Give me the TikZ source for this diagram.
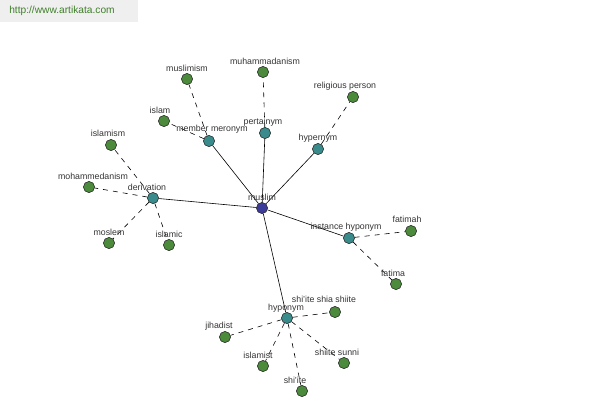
\documentclass[tikz,border=0pt]{standalone}
\usepackage{fontspec}
\setmainfont{Liberation Sans}
\usetikzlibrary{positioning}
\definecolor{cnavy}{HTML}{3B3B9A}
\definecolor{cteal}{HTML}{3A8C8C}
\definecolor{cgreen}{HTML}{4B8B3B}
\definecolor{clabel}{HTML}{333333}
\definecolor{curl}{HTML}{3F7F2A}
\definecolor{cbar}{HTML}{EFEFEF}

\begin{document}
\begin{tikzpicture}[
  x=1pt,y=-1pt,font=\fontsize{8.8}{10}\selectfont,
  dot/.style={circle,draw=black!80,line width=0.5pt,inner sep=0pt,minimum size=11pt},
  root/.style={dot,fill=cnavy},
  rel/.style={dot,fill=cteal},
  word/.style={dot,fill=cgreen},
  lbl/.style={text=clabel,inner sep=0pt},
  solidlink/.style={line width=0.6pt,black},
  dashlink/.style={line width=0.6pt,black,dash pattern=on 5pt off 5pt}]
  \useasboundingbox (0,0) rectangle (600,400);
  \fill[cbar] (0,0) rectangle (138,22);
  \node[text=curl,inner sep=0pt,font=\fontsize{10.2}{12}\selectfont] (url) at (62,11) {http://www.artikata.com};
  % root
  \node[root] (muslim) at (262,208) {};
  % relations
  \node[rel] (mem) at (209,141) {};
  \node[rel] (per) at (265,133) {};
  \node[rel] (hyper) at (318,149) {};
  \node[rel] (der) at (153,198) {};
  \node[rel] (inst) at (349,238) {};
  \node[rel] (hypo) at (287,318) {};
  % words
  \node[word] (muslimism) at (187,79) {};
  \node[word] (muhammadanism) at (263,72) {};
  \node[word] (relperson) at (353,97) {};
  \node[word] (islam) at (164,121) {};
  \node[word] (islamism) at (111,145) {};
  \node[word] (mohammedanism) at (89,187) {};
  \node[word] (moslem) at (109,243) {};
  \node[word] (islamic) at (169,245) {};
  \node[word] (fatimah) at (411,231) {};
  \node[word] (fatima) at (396,284) {};
  \node[word] (shiashiite) at (335,312) {};
  \node[word] (jihadist) at (225,337) {};
  \node[word] (islamist) at (263,366) {};
  \node[word] (shiite) at (302,391) {};
  \node[word] (sunni) at (344,363) {};
  % edges
  \foreach \a in {mem,per,hyper,der,inst,hypo}
     \draw[solidlink] (muslim) -- (\a);
  \foreach \a/\b in {mem/muslimism,mem/islam,per/muhammadanism,hyper/relperson,
                     der/islamism,der/mohammedanism,der/moslem,der/islamic,
                     inst/fatimah,inst/fatima,hypo/shiashiite,hypo/jihadist,
                     hypo/islamist,hypo/shiite,hypo/sunni}
     \draw[dashlink] (\a) -- (\b);
  % redraw dots above the lines
  \foreach \n/\s in {muslim/root,mem/rel,per/rel,hyper/rel,der/rel,inst/rel,hypo/rel,
                     muslimism/word,muhammadanism/word,relperson/word,islam/word,
                     islamism/word,mohammedanism/word,moslem/word,islamic/word,
                     fatimah/word,fatima/word,shiashiite/word,jihadist/word,
                     islamist/word,shiite/word,sunni/word}
     \node[\s] at (\n) {};
  % labels
  \node[lbl] (lmuslim) at (262,197) {muslim};
  \node[lbl] (lmem) at (212,129) {member meronym};
  \node[lbl] (lper) at (263,122) {pertainym};
  \node[lbl] (lhyper) at (318,138) {hypernym};
  \node[lbl] (lder) at (147,187) {derivation};
  \node[lbl] (linst) at (346,227) {instance hyponym};
  \node[lbl] (lhypo) at (286,308) {hyponym};
  \node[lbl] (lmuslimism) at (187,68) {muslimism};
  \node[lbl] (lmuhammadanism) at (265,61) {muhammadanism};
  \node[lbl] (lrelperson) at (345,86) {religious person};
  \node[lbl] (lislam) at (160,110) {islam};
  \node[lbl] (lislamism) at (108,133) {islamism};
  \node[lbl] (lmohammedanism) at (93,176) {mohammedanism};
  \node[lbl] (lmoslem) at (109,232) {moslem};
  \node[lbl] (lislamic) at (169,234) {islamic};
  \node[lbl] (lfatimah) at (407,219) {fatimah};
  \node[lbl] (lfatima) at (393,273) {fatima};
  \node[lbl] (lshiashiite) at (324,299) {shi'ite shia shiite};
  \node[lbl] (ljihadist) at (219,326) {jihadist};
  \node[lbl] (lislamist) at (258,355) {islamist};
  \node[lbl] (lshiite) at (295,380) {shi'ite};
  \node[lbl] (lsunni) at (337,352) {shiite sunni};
\end{tikzpicture}
\end{document}
